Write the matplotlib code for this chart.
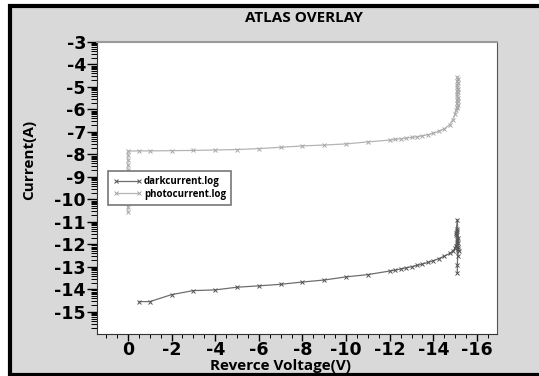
import matplotlib.pyplot as plt
import numpy as np
from matplotlib.patches import Rectangle
from matplotlib.ticker import FixedLocator, MultipleLocator

# Reverse voltage (V) and log10 of the current (A)
dark_v = [-0.5, -1, -2, -3, -4, -5, -6, -7, -8, -9, -10, -11, -12,
          -12.25, -12.5, -12.75, -13, -13.25, -13.5, -13.75, -14,
          -14.25, -14.5, -14.75, -14.9, -15.0,
          -15.08, -15.12, -15.05, -15.15, -15.1, -15.06, -15.13, -15.1,
          -15.04, -15.16, -15.09, -15.11, -15.07, -15.14, -15.1, -15.1]
dark_i = [-14.54, -14.54, -14.23, -14.05, -14.02, -13.90, -13.84, -13.77,
          -13.67, -13.58, -13.44, -13.34, -13.18,
          -13.14, -13.09, -13.04, -12.99, -12.93, -12.87, -12.80, -12.72,
          -12.63, -12.52, -12.40, -12.30, -12.15,
          -11.90, -12.20, -11.60, -11.95, -11.30, -12.05, -11.70, -10.90,
          -11.50, -12.30, -11.80, -12.50, -11.40, -12.10, -12.90, -13.27]

photo_v = [0, 0, 0, 0, 0, 0, 0, 0, 0, 0,
           -0.5, -1, -2, -3, -4, -5, -6, -7, -8, -9, -10, -11, -12,
           -12.25, -12.5, -12.75, -13, -13.25, -13.5, -13.75, -14,
           -14.25, -14.5, -14.75, -14.9, -15.0, -15.05,
           -15.1, -15.08, -15.12, -15.09, -15.11, -15.08, -15.12, -15.1,
           -15.09, -15.11, -15.08, -15.12, -15.1, -15.09, -15.11, -15.1,
           -15.12, -15.1]
photo_i = [-10.56, -10.33, -10.0, -9.6, -9.2, -8.69, -8.47, -8.24, -8.02, -7.85,
           -7.84, -7.84, -7.83, -7.82, -7.80, -7.78, -7.74, -7.68, -7.62,
           -7.58, -7.53, -7.44, -7.36,
           -7.33, -7.30, -7.27, -7.24, -7.21, -7.17, -7.12, -7.05,
           -6.97, -6.86, -6.68, -6.45, -6.20, -6.02,
           -5.95, -5.88, -5.80, -5.72, -5.64, -5.56, -5.48, -5.40,
           -5.32, -5.24, -5.16, -5.08, -5.00, -4.91, -4.82, -4.73,
           -4.64, -4.56]

x_ticks = [0, -2, -4, -6, -8, -10, -12, -14, -16]
y_ticks = [-3, -4, -5, -6, -7, -8, -9, -10, -11, -12, -13, -14, -15]

_w, _h = 539, 376
_bg = "#d9d9d9"


def frame(fig):
    # grey panel with a black border, as in the ATLAS screenshot
    fig.patches.append(
        Rectangle((10 / _w, 1 / _h), 560 / _w, 369 / _h,
                  transform=fig.transFigure, facecolor=_bg,
                  edgecolor="black", linewidth=3, zorder=-10))


def main():
    fig = plt.figure(figsize=(_w / 100, _h / 100), dpi=100)
    fig.patch.set_facecolor("white")
    frame(fig)

    ax = fig.add_axes([97 / _w, 42 / _h, 400 / _w, 292 / _h])
    ax.set_facecolor("white")

    ax.plot(dark_v, dark_i, color="#6e6e6e", lw=0.9, marker="x",
            ms=3.5, mew=0.7, mec="#555555", label="darkcurrent.log")
    ax.plot(photo_v, photo_i, color="#b4b4b4", lw=0.9, marker="x",
            ms=3.5, mew=0.7, mec="#a8a8a8", label="photocurrent.log")

    ax.set_xlim(1.42, -16.92)
    ax.set_ylim(-15.98, -3)

    ax.xaxis.set_major_locator(FixedLocator(x_ticks))
    ax.set_xticklabels([str(t) for t in x_ticks])
    ax.xaxis.set_minor_locator(MultipleLocator(0.5))
    ax.yaxis.set_major_locator(FixedLocator(y_ticks))
    ax.set_yticklabels([str(t) for t in y_ticks])
    minors = [n + np.log10(k) for n in range(-16, -3) for k in range(2, 10)]
    ax.yaxis.set_minor_locator(FixedLocator(minors))

    for lab in ax.get_xticklabels() + ax.get_yticklabels():
        lab.set_fontfamily("DejaVu Sans")
        lab.set_fontweight("bold")
        lab.set_fontsize(12.5)
    ax.tick_params(axis="y", which="major", length=7, width=1, pad=1)
    ax.tick_params(axis="y", which="minor", length=4.5, width=0.7)
    ax.tick_params(axis="x", which="major", length=5, width=1, pad=0)
    ax.tick_params(axis="x", which="minor", length=3, width=0.7)

    ax.spines["top"].set_color("#9a9a9a")
    ax.spines["top"].set_linewidth(1.5)
    ax.spines["right"].set_color("#555555")
    ax.spines["left"].set_color("#333333")
    ax.spines["bottom"].set_color("#333333")

    leg = ax.legend(loc="upper left", bbox_to_anchor=(0.0275, 0.558),
                    borderaxespad=0, fancybox=False, framealpha=1,
                    edgecolor="#777777", handlelength=3.0, handletextpad=0.2,
                    borderpad=0.5, labelspacing=0.2, numpoints=2,
                    prop={"family": "Open Sans", "weight": "bold", "size": 7})
    leg.get_frame().set_linewidth(1.2)

    fig.text(304 / _w, 1 - 18 / _h, "ATLAS OVERLAY", ha="center",
             va="center", family="Open Sans", weight="bold", fontsize=11)
    fig.text(280 / _w, 1 - 366 / _h, "Reverce Voltage(V)", ha="center",
             va="center", family="Open Sans", weight="bold", fontsize=11)
    fig.text(29 / _w, 1 - 160 / _h, "Current(A)", ha="center",
             va="center", rotation=90, family="Open Sans", weight="bold",
             fontsize=11)

    fig.savefig("out.png", dpi=100)


if __name__ == "__main__":
    main()
